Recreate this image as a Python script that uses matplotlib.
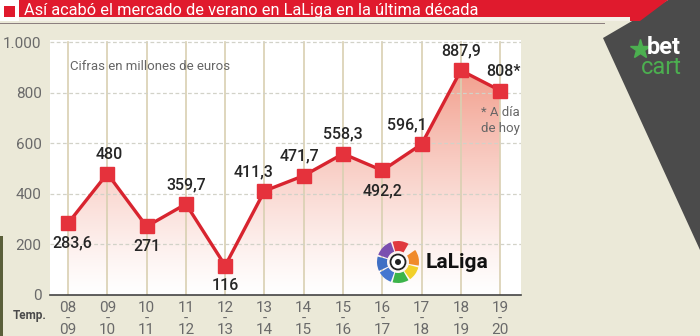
import matplotlib
matplotlib.use("Agg")
import matplotlib.pyplot as plt
import numpy as np
from matplotlib.patches import Polygon, Rectangle, Wedge, Circle

plt.rcParams['font.family'] = ['Roboto', 'DejaVu Sans']

seasons = ['08\n-\n09', '09\n-\n10', '10\n-\n11', '11\n-\n12', '12\n-\n13', '13\n-\n14',
           '14\n-\n15', '15\n-\n16', '16\n-\n17', '17\n-\n18', '18\n-\n19', '19\n-\n20']
values = [283.6, 480, 271, 359.7, 116, 411.3, 471.7, 558.3, 492.2, 596.1, 887.9, 808]
labels = ['283,6', '480', '271', '359,7', '116', '411,3', '471,7', '558,3', '492,2', '596,1', '887,9', '808*']
above = [False, True, False, True, False, True, True, True, False, True, True, True]
# small horizontal nudges of the value labels, in pixels
nudge = [4, 2, 0, 0, 0, -11, -4, 0, 0, -15, 0, 3]
yticks = [0, 200, 400, 600, 800, 1000]
ytick_labels = ['0', '200', '400', '600', '800', '1.000']

W, H = 700, 336
fig = plt.figure(figsize=(7, 3.36), dpi=100)
fig.patch.set_facecolor('#ebe9d8')

def px(x, y):
    # pixel coords (top-left origin) -> inches for dpi_scale_trans
    return (x / 100, (H - y) / 100)

tr = fig.dpi_scale_trans

# dark diagonal band on the right
fig.add_artist(Polygon([px(668, 0), px(700, 0), px(700, 250), px(603, 38)],
                       closed=True, facecolor='#4b4b4b', edgecolor='none', transform=tr, zorder=0))
# title bar
fig.add_artist(Polygon([px(0, 0), px(668, 0), px(640, 21), px(0, 21)],
                       closed=True, facecolor='#e01a2d', edgecolor='none', transform=tr, zorder=1))
fig.add_artist(Rectangle(px(0, 21), 6.3, 0.04, facecolor='#f4f0e8', edgecolor='none', transform=tr, zorder=1))
fig.add_artist(Rectangle(px(0, 24), 6.05, 0.012, facecolor='#8c7f7f', edgecolor='none', transform=tr, zorder=1))
fig.add_artist(Rectangle(px(0, 21), 0.19, 0.21, facecolor='white', edgecolor='none', transform=tr, zorder=2))
fig.add_artist(Rectangle(px(4, 17), 0.11, 0.11, facecolor='#e01a2d', edgecolor='none', transform=tr, zorder=3))
fig.text(24 / W, 1 - 11 / H, 'Así acabó el mercado de verano en LaLiga en la última década',
         color='white', fontsize=11.8, va='center', ha='left', zorder=4)
fig.add_artist(Rectangle(px(0, 336), 0.025, 1.0, facecolor='#5a5f3a', edgecolor='none', transform=tr, zorder=1))

# betcart logo
fig.text(664 / W, 1 - 47 / H, 'bet', color='white', fontsize=17, fontweight='bold',
         ha='center', va='center', zorder=4)
fig.text(661 / W, 1 - 68 / H, 'cart', color='#4caf50', fontsize=17,
         ha='center', va='center', zorder=4)
fig.add_artist(plt.Line2D([640 / W], [1 - 49 / H], marker='*', markersize=15, color='#4caf50',
                          transform=fig.transFigure, zorder=4))

ax = fig.add_axes([50 / W, 1 - 295 / H, 471 / W, 255 / H])
ax.set_facecolor('white')
x = np.arange(len(values))

# gradient fill under the line
verts = [(0, 0)] + list(zip(x, values)) + [(x[-1], 0)]
clip = Polygon(verts, closed=True, facecolor='none', edgecolor='none')
ax.add_patch(clip)
grad = np.linspace(0, 1, 256).reshape(-1, 1) ** 1.2
top = np.array([0.95, 0.62, 0.55])
img = np.ones((256, 1, 3)) * (1 - grad[..., None]) + top * grad[..., None]
im = ax.imshow(img, extent=[-0.5, 11.5, 0, 900], origin='lower', aspect='auto', zorder=1)
im.set_clip_path(clip)
ax.set_xlim(-0.46, 11.53)
ax.set_ylim(0, 1008)

for xi in x:
    ax.plot([xi, xi], [0, 1000], color='#d9d0b2', lw=1.2, zorder=2)
for yv in yticks[1:]:
    ax.plot([-0.46, 11.53], [yv, yv], color='#d2d2c8', lw=0.9, ls=(0, (3, 2)), zorder=2)

ax.plot(x, values, color='#d8242f', lw=2.4, marker='s', markersize=9.5,
        markerfacecolor='#e5323c', markeredgecolor='#e5323c', zorder=4)

for xi, v, lab, up, nx in zip(x, values, labels, above, nudge):
    dy = 14 if up else -14.5
    ax.annotate(lab, (xi, v), xytext=(nx * 0.72, dy), textcoords='offset points',
                ha='center', va='center', fontsize=11.5, fontweight='medium',
                color='#262626', zorder=5)

ax.text(0.04, 905, 'Cifras en millones de euros', fontsize=9.5, color='#666666',
        ha='left', va='center')
ax.text(11, 690, '* A día\nde hoy', fontsize=9.5, color='#666666', ha='center', va='center',
        linespacing=1.3, zorder=5)

# LaLiga logo
cx, cy = 398 / 100, (H - 262) / 100
ring_cols = ['#e0393e', '#7b4fb0', '#3f6fc4', '#4577d0', '#3cb44a', '#f2d02a', '#f08a2b']
angs = [(60, 105), (110, 160), (165, 205), (210, 250), (255, 300), (305, 345), (350, 395)]
for c, (a1, a2) in zip(ring_cols, angs):
    fig.add_artist(Wedge((cx, cy), 0.21, a1, a2, width=0.1, facecolor=c, edgecolor='none',
                         transform=tr, zorder=5))
fig.add_artist(Circle((cx, cy), 0.075, facecolor='white', edgecolor='#222222', lw=1.3,
                      transform=tr, zorder=5))
fig.add_artist(Circle((cx, cy), 0.03, facecolor='#222222', edgecolor='none', transform=tr, zorder=6))
fig.text(426 / W, 1 - 262 / H, 'LaLiga', fontsize=15, fontweight='bold', color='#111111',
         ha='left', va='center', zorder=5)

ax.set_yticks(yticks)
ax.set_yticklabels(ytick_labels)
ax.set_xticks(x)
ax.set_xticklabels(seasons, linespacing=0.75)
ax.tick_params(axis='both', length=0, labelsize=11, colors='#6a6a6a')
ax.tick_params(axis='x', pad=4)
ax.tick_params(axis='y', pad=6)
for s in ['top', 'right', 'left']:
    ax.spines[s].set_visible(False)
ax.spines['bottom'].set_color('#444444')
ax.spines['bottom'].set_linewidth(1.2)

fig.text(30 / W, 1 - 316 / H, 'Temp.', fontsize=8.5, fontweight='bold', color='#4a4a4a',
         ha='center', va='center')

fig.savefig('out.png', dpi=100, facecolor=fig.get_facecolor())
